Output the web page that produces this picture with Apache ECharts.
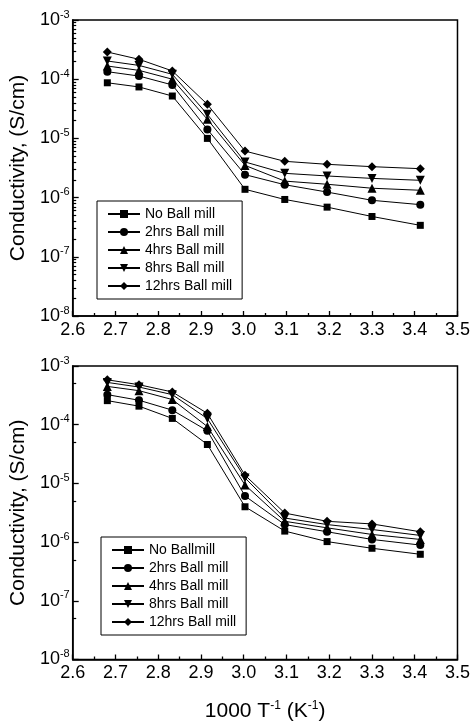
<!DOCTYPE html>
<html>
<head>
<meta charset="utf-8">
<script src="https://cdn.jsdelivr.net/npm/echarts@6/dist/echarts.min.js"></script>
<style>
  html, body { margin: 0; padding: 0; background: #fff; }
  #chart { width: 473px; height: 723px; }
</style>
</head>
<body>
<div id="chart"></div>
<script>
// 1000/T for T = 373 ... 293 K
var xValues = [2.681, 2.755, 2.833, 2.915, 3.003, 3.096, 3.195, 3.300, 3.413];

// top panel
var topNames = ['No Ball mill', '2hrs Ball mill', '4hrs Ball mill', '8hrs Ball mill', '12hrs Ball mill'];
var topNoMill = [8.7e-5, 7.4e-5, 5.2e-5, 1.0e-5, 1.38e-6, 9.3e-7, 6.9e-7, 4.8e-7, 3.4e-7];
var top2hrs = [1.34e-4, 1.13e-4, 8.0e-5, 1.42e-5, 2.44e-6, 1.65e-6, 1.24e-6, 9.0e-7, 7.6e-7];
var top4hrs = [1.67e-4, 1.41e-4, 1.0e-4, 2.1e-5, 3.5e-6, 1.9e-6, 1.68e-6, 1.44e-6, 1.33e-6];
var top8hrs = [2.03e-4, 1.71e-4, 1.21e-4, 2.55e-5, 4.0e-6, 2.57e-6, 2.32e-6, 2.11e-6, 1.96e-6];
var top12hrs = [2.88e-4, 2.17e-4, 1.38e-4, 3.76e-5, 6.1e-6, 4.1e-6, 3.65e-6, 3.33e-6, 3.08e-6];

// bottom panel
var botNames = ['No Ballmill', '2hrs Ball mill', '4hrs Ball mill', '8hrs Ball mill', '12hrs Ball mill'];
var botNoMill = [2.57e-4, 2.07e-4, 1.28e-4, 4.6e-5, 4.0e-6, 1.54e-6, 1.02e-6, 7.85e-7, 6.2e-7];
var bot2hrs = [3.25e-4, 2.61e-4, 1.77e-4, 7.9e-5, 6.1e-6, 1.99e-6, 1.5e-6, 1.11e-6, 8.9e-7];
var bot4hrs = [4.49e-4, 3.8e-4, 2.68e-4, 9.3e-5, 9.4e-6, 2.26e-6, 1.75e-6, 1.35e-6, 1.11e-6];
var bot8hrs = [5.25e-4, 4.38e-4, 3.25e-4, 1.27e-4, 1.24e-5, 2.57e-6, 1.99e-6, 1.64e-6, 1.30e-6];
var bot12hrs = [5.82e-4, 4.8e-4, 3.61e-4, 1.56e-4, 1.38e-5, 3.12e-6, 2.26e-6, 2.04e-6, 1.5e-6];

var yDecades = [1e-8, 1e-7, 1e-6, 1e-5, 1e-4, 1e-3];
var topMinorMult = [2, 3, 4, 5, 6, 7, 8, 9];
var botMinorMult = [5];

var symbols = ['rect', 'circle', 'triangle', 'triangle', 'diamond'];
var symbolSizes = [7, 8, 9, 9, 9];
var symbolRots = [0, 0, 0, 180, 0];

var FONT = '"Liberation Sans", Arial, sans-serif';

function minorValues(mults) {
    var out = [];
    for (var i = 0; i < yDecades.length - 1; i++) {
        mults.forEach(function (m) { out.push(+(m * yDecades[i]).toPrecision(3)); });
    }
    return out;
}

function pairs(ys) {
    return xValues.map(function (x, i) { return [x, ys[i]]; });
}

var powRich = {
    a: { fontSize: 18, lineHeight: 22, fontFamily: FONT, color: '#000' },
    b: { fontSize: 11, lineHeight: 11, verticalAlign: 'top', fontFamily: FONT, color: '#000' }
};

function xAxisFor(grid, withName) {
    var ax = {
        type: 'value', gridIndex: grid, min: 2.6, max: 3.5, interval: 0.1,
        axisLine: { show: true, onZero: false, lineStyle: { color: '#000', width: 1.5 } },
        axisTick: { show: true, inside: true, length: 5, lineStyle: { color: '#000', width: 1.3 } },
        minorTick: { show: true, splitNumber: 2, length: 3, lineStyle: { color: '#000', width: 1.3 } },
        splitLine: { show: false },
        axisLabel: {
            margin: 5, color: '#000', fontSize: 18, fontFamily: FONT,
            formatter: function (v) { return v.toFixed(1); }
        }
    };
    if (withName) {
        ax.name = '{t|1000 T}{s|-1}{t| (K}{s|-1}{t|)}';
        ax.nameLocation = 'middle';
        ax.nameGap = 40;
        ax.nameTextStyle = {
            rich: {
                t: { fontSize: 21, lineHeight: 24, fontFamily: FONT, color: '#000' },
                s: { fontSize: 12, lineHeight: 12, verticalAlign: 'top', fontFamily: FONT, color: '#000' }
            }
        };
    }
    return ax;
}

function yAxisMain(grid) {
    return {
        type: 'log', gridIndex: grid, logBase: 10, min: 1e-8, max: 1e-3, position: 'left',
        name: 'Conductivity, (S/cm)', nameLocation: 'middle', nameGap: 42,
        nameTextStyle: { fontSize: 21, fontFamily: FONT, color: '#000' },
        axisLine: { show: true, lineStyle: { color: '#000', width: 1.5 } },
        axisTick: { show: true, inside: true, length: 6, customValues: yDecades, lineStyle: { color: '#000', width: 1.3 } },
        splitLine: { show: false },
        axisLabel: {
            margin: 3, customValues: yDecades,
            formatter: function (v) {
                return '{a|10}{b|' + Math.round(Math.log10(v)) + '}';
            },
            rich: powRich
        }
    };
}

function yAxisMinor(grid, mults) {
    return {
        type: 'log', gridIndex: grid, logBase: 10, min: 1e-8, max: 1e-3, position: 'left', offset: 0,
        axisLine: { show: false },
        axisTick: { show: true, inside: true, length: 3.5, customValues: minorValues(mults), lineStyle: { color: '#000', width: 1.2 } },
        axisLabel: { show: false },
        splitLine: { show: false }
    };
}

function makeSeries(names, arrays, xi, yi) {
    return names.map(function (n, i) {
        return {
            name: n, type: 'line', xAxisIndex: xi, yAxisIndex: yi,
            data: pairs(arrays[i]),
            symbol: symbols[i], symbolSize: symbolSizes[i], symbolRotate: symbolRots[i],
            lineStyle: { color: '#000', width: 1 },
            itemStyle: { color: '#000' },
            showAllSymbol: true,
            animation: false
        };
    });
}

function legendFor(names, left, top) {
    return {
        data: names, orient: 'vertical', left: left, top: top,
        borderColor: '#000', borderWidth: 1, padding: [6, 10, 6, 10],
        itemWidth: 32, itemHeight: 10, itemGap: 4,
        textStyle: { fontSize: 14, fontFamily: FONT, color: '#000' },
        selectedMode: false
    };
}

var chart = echarts.init(document.getElementById('chart'));
chart.setOption({
    backgroundColor: '#fff',
    animation: false,
    grid: [
        { left: 68, top: 20, width: 392, height: 296, show: true, borderColor: '#000', borderWidth: 1.5, containLabel: false },
        { left: 68, top: 366, width: 394, height: 297, show: true, borderColor: '#000', borderWidth: 1.5, containLabel: false }
    ],
    xAxis: [xAxisFor(0, false), xAxisFor(1, true)],
    yAxis: [yAxisMain(0), yAxisMinor(0, topMinorMult), yAxisMain(1), yAxisMinor(1, botMinorMult)],
    legend: [legendFor(topNames, 97, 201), legendFor(botNames, 101, 537)],
    series: makeSeries(topNames, [topNoMill, top2hrs, top4hrs, top8hrs, top12hrs], 0, 0)
        .concat(makeSeries(botNames, [botNoMill, bot2hrs, bot4hrs, bot8hrs, bot12hrs], 1, 2))
});
</script>
</body>
</html>
